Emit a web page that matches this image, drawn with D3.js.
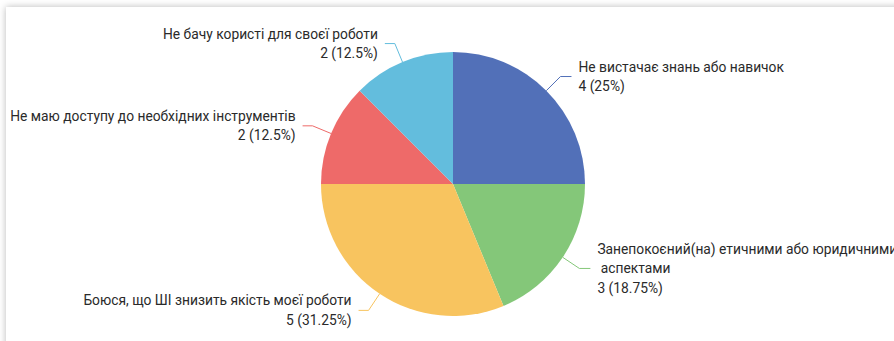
<!DOCTYPE html>
<html>
<head>
<meta charset="utf-8">
<script src="https://cdn.jsdelivr.net/npm/d3@7"></script>
<style>
    body { margin: 0; background: #fff; overflow: hidden; }
    #card {
        position: absolute; left: 6px; top: 7px; width: 1000px; height: 400px;
        background: #fff; box-shadow: 0 0 7px rgba(0, 0, 0, 0.28);
    }
    #pie-chart { position: absolute; left: 0; top: 0; }
    .slice-label { font-family: Roboto, "Noto Sans", sans-serif; font-size: 13.8px; fill: #2a2a2a; white-space: pre; }
    .leader { fill: none; stroke-width: 1; }
</style>
</head>
<body>
<div id="card"></div>
<div id="pie-chart"></div>
<script>
// answers, in the order the slices run clockwise from 12 o'clock
var categories = [
    ["Не вистачає знань або навичок"],
    ["Занепокоєний(на) етичними або юридичними", " аспектами"],
    ["Боюся, що ШІ знизить якість моєї роботи"],
    ["Не маю доступу до необхідних інструментів"],
    ["Не бачу користі для своєї роботи"]
];
var counts = [4, 3, 5, 2, 2];
var colors = ["#5270b8", "#84c779", "#f8c45f", "#ee6a69", "#63bddd"];

/*
 * PieChart - draws the pie with leader-line labels
 */
PieChart = function(_parentElement) {
    this.parentElement = _parentElement;
    this.initVis();
};

PieChart.prototype.initVis = function() {
    var vis = this;

    vis.width = 894;
    vis.height = 341;
    vis.cx = 453;
    vis.cy = 184;
    vis.radius = 132;

    vis.svg = d3.select("#" + vis.parentElement).append("svg")
        .attr("width", vis.width)
        .attr("height", vis.height)
        .append("g")
        .attr("transform", "translate(" + vis.cx + "," + vis.cy + ")");

    vis.pie = d3.pie().sort(null).value(function(d) { return d.count; });
    vis.arc = d3.arc().innerRadius(0).outerRadius(vis.radius);

    vis.wrangleData();
};

PieChart.prototype.wrangleData = function() {
    var vis = this;
    var total = d3.sum(counts);

    vis.displayData = counts.map(function(c, i) {
        return {
            count: c,
            lines: categories[i],
            color: colors[i],
            valueText: c + " (" + (+(c / total * 100).toFixed(2)) + "%)"
        };
    });

    vis.updateVis();
};

PieChart.prototype.updateVis = function() {
    var vis = this;
    var arcs = vis.pie(vis.displayData);

    vis.svg.selectAll(".slice")
        .data(arcs)
        .enter()
        .append("path")
        .attr("class", "slice")
        .attr("d", vis.arc)
        .attr("fill", function(d) { return d.data.color; });

    // leader lines: radial out from the slice edge, then a short horizontal run
    var lineHeight = 19.5;
    arcs.forEach(function(d) {
        var mid = (d.startAngle + d.endAngle) / 2;
        var sx = Math.sin(mid), sy = -Math.cos(mid);
        var right = sx > 0;
        var p0 = [sx * vis.radius, sy * vis.radius];
        var p1 = [sx * (vis.radius + 20), sy * (vis.radius + 20)];
        var p2 = [p1[0] + (right ? 11 : -10), p1[1]];

        vis.svg.append("path")
            .attr("class", "leader")
            .attr("stroke", d.data.color)
            .attr("d", d3.line()([p0, p1, p2]));

        var lines = d.data.lines.concat([d.data.valueText]);
        var top = p1[1] - (lines.length - 1) * lineHeight / 2;

        var label = vis.svg.append("text")
            .attr("class", "slice-label")
            .attr("text-anchor", right ? "start" : "end");

        label.selectAll("tspan")
            .data(lines)
            .enter()
            .append("tspan")
            .attr("x", p2[0] + (right ? 7 : -7))
            .attr("y", function(t, j) { return top + j * lineHeight; })
            .attr("dy", "0.35em")
            .text(function(t) { return t; });
    });
};

new PieChart("pie-chart");
</script>
</body>
</html>
